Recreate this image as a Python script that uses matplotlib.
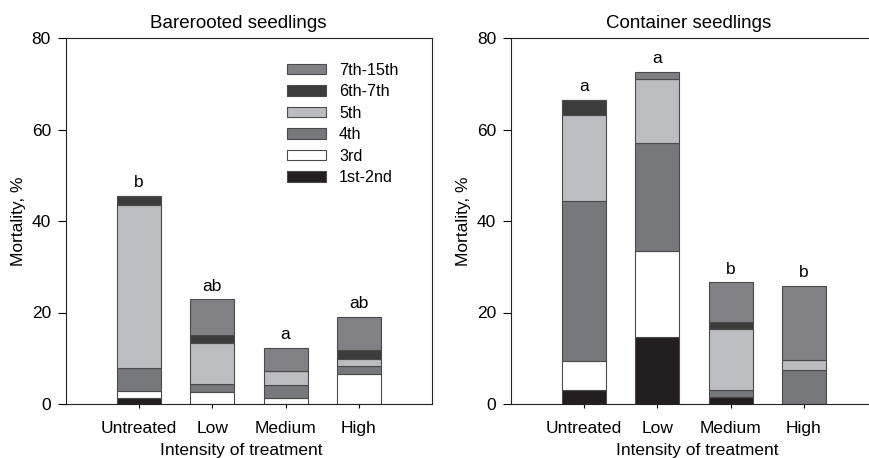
import matplotlib
matplotlib.use("Agg")
import matplotlib.pyplot as plt
import numpy as np
from matplotlib.patches import Patch

plt.rcParams['font.family'] = ['Liberation Sans', 'DejaVu Sans']

categories = ["Untreated", "Low", "Medium", "High"]
stages = ["1st-2nd", "3rd", "4th", "5th", "6th-7th", "7th-15th"]
colors = ["#231f20", "#ffffff", "#77787b", "#bcbdc0", "#3c3c3c", "#808085"]

# segment values (mortality %, per stage), bottom to top
bare = {
    "1st-2nd":  [1.25, 0.0, 0.0, 0.0],
    "3rd":      [1.65, 2.7, 1.25, 6.5],
    "4th":      [4.9, 1.7, 2.95, 1.7],
    "5th":      [35.8, 9.0, 3.1, 1.6],
    "6th-7th":  [1.9, 1.7, 0.0, 2.0],
    "7th-15th": [0.0, 7.8, 4.9, 7.3],
}
cont = {
    "1st-2nd":  [3.05, 14.6, 1.5, 0.0],
    "3rd":      [6.35, 18.8, 0.0, 0.0],
    "4th":      [34.9, 23.6, 1.55, 7.4],
    "5th":      [18.9, 14.0, 13.35, 2.2],
    "6th-7th":  [3.3, 0.0, 1.6, 0.0],
    "7th-15th": [0.0, 1.6, 8.6, 16.3],
}
bare_letters = ["b", "ab", "a", "ab"]
cont_letters = ["a", "a", "b", "b"]
titles = ["Barerooted seedlings", "Container seedlings"]

W, H = 869, 458
fig = plt.figure(figsize=(W / 100, H / 100), dpi=100)
axL = fig.add_axes([66 / W, 1 - 404 / H, 366 / W, 366 / H])
axR = fig.add_axes([511 / W, 1 - 404 / H, 366 / W, 366 / H])

x = np.arange(len(categories))
FS = 12.5
LFS = 11.6

def draw(ax, data, letters, title, tx, lx, legend=False):
    bottom = np.zeros(len(categories))
    for st, c in zip(stages, colors):
        v = np.array(data[st])
        ax.bar(x, v, 0.6, bottom=bottom, color=c, edgecolor="#4a4a4a",
               linewidth=0.8, zorder=2)
        bottom += v
    for xi, tot, let in zip(x, bottom, letters):
        ax.text(xi, tot + 1.9, let, ha="center", va="baseline", fontsize=12.5)
    ax.set_xlim(-1, 4)
    ax.set_ylim(0, 80)
    ax.set_yticks([0, 20, 40, 60, 80])
    ax.set_xticks(x)
    ax.set_xticklabels(categories)
    ax.tick_params(axis="y", direction="out", length=5.8, width=0.8,
                   labelsize=FS, pad=5)
    ax.tick_params(axis="x", direction="out", length=3, width=0.8,
                   labelsize=FS, pad=9.5)
    for s in ax.spines.values():
        s.set_linewidth(0.8)
        s.set_color("#222222")
    ax.set_ylabel("Mortality, %", fontsize=FS)
    ax.yaxis.set_label_coords(-0.131, 0.5)
    ax.yaxis.label.set_va("center")
    ax.set_xlabel("Intensity of treatment", fontsize=FS)
    ax.xaxis.set_label_coords(lx, -0.106)
    ax.text(tx, 1 + 10 / 366, title, transform=ax.transAxes, ha="center",
            va="baseline", fontsize=13.5)
    if legend:
        handles = [Patch(facecolor=c, edgecolor="#4a4a4a", linewidth=0.8, label=s)
                   for s, c in zip(stages, colors)][::-1]
        ax.legend(handles=handles, loc="upper left",
                  bbox_to_anchor=(0.604, 0.932), frameon=False,
                  fontsize=LFS, handlelength=2.41, handleheight=0.62,
                  handletextpad=0.81, labelspacing=0.4, borderpad=0,
                  borderaxespad=0)

draw(axL, bare, bare_letters, titles[0], 0.47, 0.478, legend=True)
draw(axR, cont, cont_letters, titles[1], 0.485, 0.51)

fig.savefig("out.png", dpi=100)
